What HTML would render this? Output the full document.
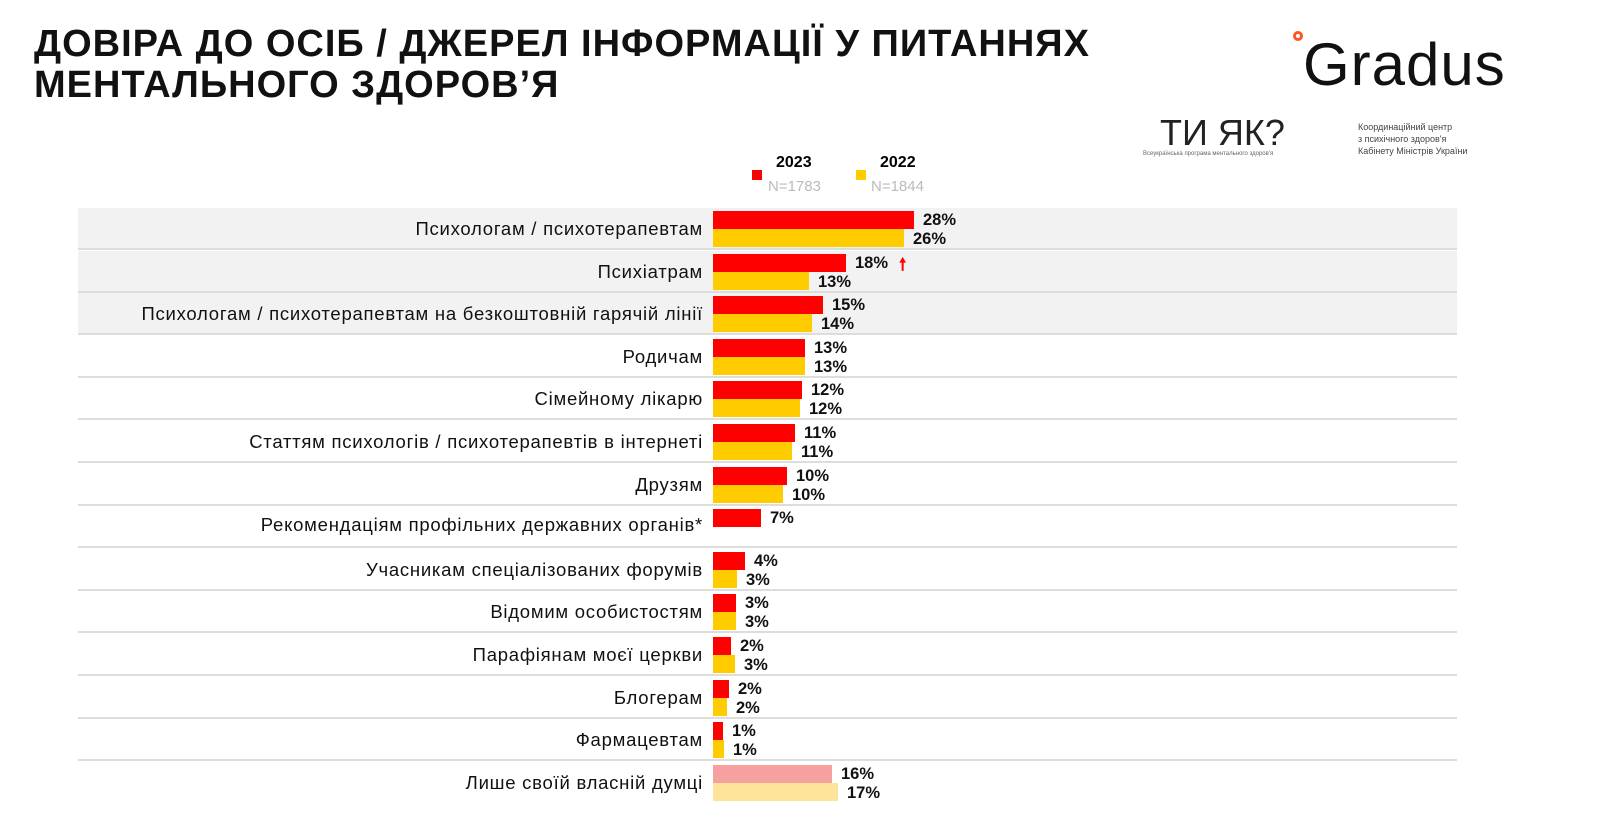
<!DOCTYPE html>
<html><head><meta charset="utf-8"><style>
body{margin:0;width:1598px;height:834px;background:#fff;position:relative;overflow:hidden;font-family:"Liberation Sans",sans-serif}
.t{position:absolute;left:34px;top:24px;font-size:38px;font-weight:bold;line-height:41px;color:#111;letter-spacing:1px}
.row{position:absolute;left:78px;width:1379px;height:42px;border-bottom:2px solid #ddd;box-sizing:border-box}
.lab{position:absolute;font-size:18.5px;letter-spacing:0.75px;color:#111;white-space:nowrap}
.b{position:absolute;left:713px;height:18px}
.v{position:absolute;font-size:16.5px;font-weight:bold;color:#111}
</style></head><body>
<div class="t">ДОВІРА ДО ОСІБ / ДЖЕРЕЛ ІНФОРМАЦІЇ У ПИТАННЯХ<br>МЕНТАЛЬНОГО ЗДОРОВ’Я</div>
<div style="position:absolute;left:1293px;top:31px;width:10px;height:10px;border-radius:50%;border:3px solid #f52;box-sizing:border-box"></div>
<div style="position:absolute;left:1303px;top:30px;font-size:60px;color:#111;letter-spacing:1px">Gradus</div>
<div style="position:absolute;left:1160px;top:112px;font-size:36px;color:#222">ТИ ЯК?</div>
<div style="position:absolute;left:1143px;top:151px;font-size:6px;color:#666">Всеукраїнська програма ментального здоров'я</div>
<div style="position:absolute;left:1358px;top:121px;font-size:9px;line-height:12px;color:#444">Координаційний центр<br>з психічного здоров'я<br>Кабінету Міністрів України</div>
<div style="position:absolute;left:752px;top:170px;width:10px;height:10px;background:#f00"></div>
<div style="position:absolute;left:776px;top:154px;font-size:16px;font-weight:bold">2023</div>
<div style="position:absolute;left:768px;top:178px;font-size:15px;color:#bbb">N=1783</div>
<div style="position:absolute;left:856px;top:170px;width:10px;height:10px;background:#fc0"></div>
<div style="position:absolute;left:880px;top:154px;font-size:16px;font-weight:bold">2022</div>
<div style="position:absolute;left:871px;top:178px;font-size:15px;color:#bbb">N=1844</div>
<div id="c"></div>
<script>
var d=[["Психологам / психотерапевтам",914,"28%",904,"26%"],["Психіатрам",846,"18%",809,"13%"],["Психологам / психотерапевтам на безкоштовній гарячій лінії",823,"15%",812,"14%"],["Родичам",805,"13%",805,"13%"],["Сімейному лікарю",802,"12%",800,"12%"],["Статтям психологів / психотерапевтів в інтернеті",795,"11%",792,"11%"],["Друзям",787,"10%",783,"10%"],["Рекомендаціям профільних державних органів*",761,"7%",0,""],["Учасникам спеціалізованих форумів",745,"4%",737,"3%"],["Відомим особистостям",736,"3%",736,"3%"],["Парафіянам моєї церкви",731,"2%",735,"3%"],["Блогерам",729,"2%",727,"2%"],["Фармацевтам",723,"1%",724,"1%"],["Лише своїй власній думці",832,"16%",838,"17%"]];
var h="";
d.forEach(function(r,i){var t=208+i*42.6;var last=i==13;
h+='<div class="row" style="top:'+t+'px;background:'+(i<3?'#f2f2f2':'#fff')+';'+(last?'border-bottom:none':'')+'"></div>';
h+='<div class="lab" style="top:'+(t+(i==7?8:10))+'px;right:'+(1598-703)+'px">'+r[0]+'</div>';
h+='<div class="b" style="top:'+(t+3)+'px;width:'+(r[1]-713)+'px;background:'+(last?'#f6a0a0':'#f00')+'"></div>';
h+='<div class="v" style="top:'+(t+3)+'px;left:'+(r[1]+9)+'px">'+r[2]+'</div>';
if(r[3]){h+='<div class="b" style="top:'+(t+21)+'px;width:'+(r[3]-713)+'px;background:'+(last?'#fde49a':'#fc0')+'"></div>';
h+='<div class="v" style="top:'+(t+22)+'px;left:'+(r[3]+9)+'px">'+r[4]+'</div>';}
});
h+='<div style="position:absolute;left:899px;top:252px;color:#f00;font-size:17px;font-weight:bold">&#129045;</div>';
document.getElementById("c").innerHTML=h;
</script>
</body></html>
